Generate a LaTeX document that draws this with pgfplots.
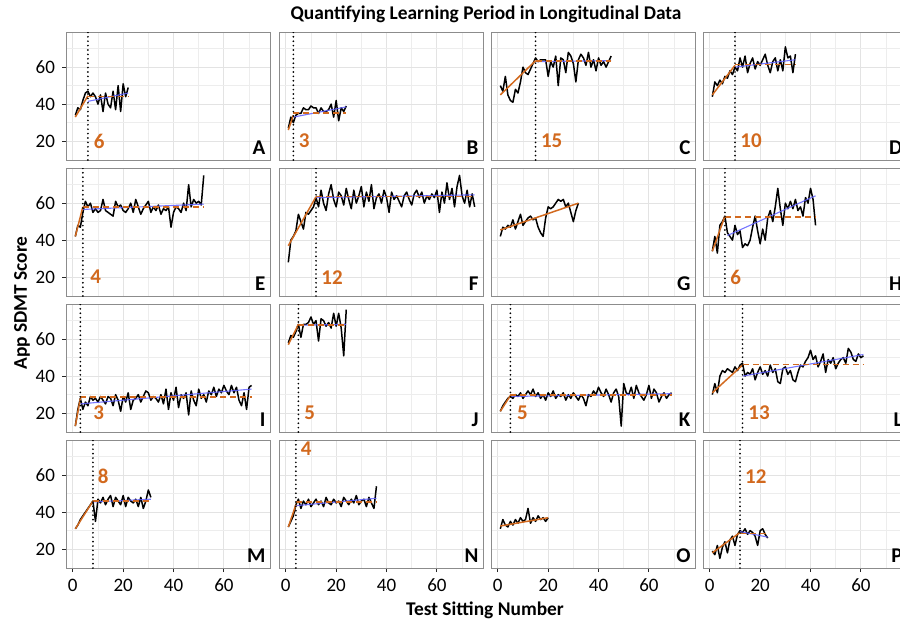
\documentclass[border=0pt]{standalone}
\usepackage{fontspec}
\setmainfont{Carlito}
\usepackage{pgfplots}
\pgfplotsset{compat=1.18}
\definecolor{lporange}{RGB}{210,105,30}
\definecolor{fitblue}{RGB}{95,95,255}
\pgfplotsset{
  panel/.style={
    scale only axis, width=102.5pt, height=64pt, anchor=north west,
    xmin=-2.7, xmax=78.7, ymin=9.8, ymax=79,
    xtick={0,20,40,60}, ytick={20,40,60},
    minor xtick={10,30,50,70}, minor ytick={30,50,70},
    xmajorgrids, ymajorgrids, xminorgrids, yminorgrids,
    major grid style={draw=black!11, line width=0.5pt},
    minor grid style={draw=black!7, line width=0.4pt},
    axis line style={draw=black!45, line width=0.5pt},
    xticklabels={}, yticklabels={},
    xtick pos=lower, ytick pos=left, tick align=outside,
    major tick length=2pt, minor tick length=0pt,
    tick style={black!85, line width=0.55pt},
    every major x tick/.append style={draw=none},
    every major y tick/.append style={draw=none},
    tick label style={font=\fontsize{9.5}{10}\selectfont},
  },
  leftcol/.style={yticklabels={20,40,60},
    every major y tick/.append style={draw=black!85}},
  bottomrow/.style={xticklabels={0,20,40,60},
    every major x tick/.append style={draw=black!85}},
  dataline/.style={black, line width=0.75pt, line join=round},
  lpline/.style={lporange, line width=0.75pt},
  platline/.style={lporange, line width=0.75pt, dash pattern=on 3pt off 2pt},
  fitline/.style={fitblue, line width=0.55pt, opacity=0.85},
  vline/.style={black, line width=0.95pt, line cap=round, dash pattern=on 0pt off 2.2pt},
}
\tikzset{
  lpnum/.style={lporange, anchor=west, inner sep=0pt, font=\fontsize{10.5}{11}\bfseries},
  letter/.style={anchor=south east, inner sep=0pt, font=\fontsize{10.5}{11}\bfseries},
  ttl/.style={font=\fontsize{9.7}{11}\bfseries},
}
\begin{document}
\begin{tikzpicture}
% ---- row 1
\begin{axis}[panel, leftcol, at={(33pt,-16pt)}]
\addplot[dataline] table[x expr=\coordindex+1, y index=0, header=false, row sep=\\] {34\\38\\37\\42\\46\\47\\44\\46\\44\\40\\45\\36\\46\\40\\38\\47\\37\\50\\36\\51\\44\\49\\};
\addplot[fitline] coordinates {(6,41.5) (22,46)};
\addplot[lpline] coordinates {(1,33) (6,44.5)};
\addplot[platline] coordinates {(6,44) (22,44)};
\addplot[vline] coordinates {(6,9.8) (6,79)};
\node[lpnum] at (axis cs:8.2,20) {6};
\node[letter] at (rel axis cs:0.975,0.04) {A};
\end{axis}
\begin{axis}[panel, at={(139.5pt,-16pt)}]
\addplot[dataline] table[x expr=\coordindex+1, y index=0, header=false, row sep=\\] {27\\33\\30\\34\\35\\35\\38\\37\\37\\39\\38\\38\\35\\38\\36\\36\\37\\40\\33\\42\\31\\38\\36\\39\\};
\addplot[fitline] coordinates {(3,33) (24,38.5)};
\addplot[lpline] coordinates {(1,26) (3,34)};
\addplot[platline] coordinates {(3,35.3) (24,35.3)};
\addplot[vline] coordinates {(3,9.8) (3,79)};
\node[lpnum] at (axis cs:5,20) {3};
\node[letter] at (rel axis cs:0.975,0.04) {B};
\end{axis}
\begin{axis}[panel, at={(245.5pt,-16pt)}]
\addplot[dataline] table[x expr=\coordindex+1, y index=0, header=false, row sep=\\] {50\\47\\55\\45\\42\\41\\48\\46\\52\\60\\57\\56\\59\\62\\65\\63\\64\\64\\64\\55\\63\\60\\66\\50\\65\\64\\57\\68\\66\\62\\52\\64\\67\\65\\61\\68\\60\\64\\58\\65\\61\\63\\60\\63\\66\\};
\addplot[fitline] coordinates {(15,63) (45,63.5)};
\addplot[lpline] coordinates {(1,45) (15,63.5)};
\addplot[platline] coordinates {(15,63.4) (45,63.4)};
\addplot[vline] coordinates {(15,9.8) (15,79)};
\node[lpnum] at (axis cs:17,20) {15};
\node[letter] at (rel axis cs:0.975,0.04) {C};
\end{axis}
\begin{axis}[panel, at={(351.5pt,-16pt)}]
\addplot[dataline] table[x expr=\coordindex+1, y index=0, header=false, row sep=\\] {44\\52\\50\\53\\51\\55\\54\\58\\56\\60\\58\\65\\60\\66\\57\\62\\65\\59\\63\\61\\64\\67\\61\\57\\63\\65\\58\\64\\58\\71\\65\\66\\57\\67\\};
\addplot[fitline] coordinates {(10,60) (34,64)};
\addplot[lpline] coordinates {(1,45) (10,61)};
\addplot[platline] coordinates {(10,61.5) (34,61.5)};
\addplot[vline] coordinates {(10,9.8) (10,79)};
\node[lpnum] at (axis cs:12,20) {10};
\node[letter] at (rel axis cs:0.975,0.04) {D};
\end{axis}
% ---- row 2
\begin{axis}[panel, leftcol, at={(33pt,-84pt)}]
\addplot[dataline] table[x expr=\coordindex+1, y index=0, header=false, row sep=\\] {42\\48\\47\\55\\61\\58\\60\\55\\57\\55\\56\\62\\56\\55\\54\\53\\61\\58\\59\\56\\55\\57\\60\\55\\62\\58\\54\\57\\59\\61\\55\\58\\56\\59\\54\\57\\56\\58\\47\\55\\58\\57\\55\\60\\56\\70\\58\\62\\60\\61\\59\\75\\};
\addplot[fitline] coordinates {(4,56.6) (52,59.5)};
\addplot[lpline] coordinates {(1,42) (4,58)};
\addplot[platline] coordinates {(4,58) (52,58)};
\addplot[vline] coordinates {(4,9.8) (4,79)};
\node[lpnum] at (axis cs:6.8,20) {4};
\node[letter] at (rel axis cs:0.975,0.04) {E};
\end{axis}
\begin{axis}[panel, at={(139.5pt,-84pt)}]
\addplot[dataline] table[x expr=\coordindex+1, y index=0, header=false, row sep=\\] {28\\40\\42\\45\\54\\50\\46\\55\\54\\56\\58\\63\\58\\67\\60\\56\\65\\70\\62\\58\\66\\64\\59\\68\\62\\57\\67\\60\\64\\69\\58\\66\\61\\70\\57\\63\\65\\60\\67\\63\\55\\66\\62\\64\\61\\58\\64\\66\\62\\59\\65\\67\\63\\66\\60\\64\\62\\65\\63\\67\\55\\66\\60\\71\\62\\68\\58\\69\\75\\64\\60\\67\\58\\65\\58\\};
\addplot[fitline] coordinates {(12,63) (75,64.5)};
\addplot[lpline] coordinates {(1,37) (12,63.5)};
\addplot[platline] coordinates {(12,63.5) (75,63.5)};
\addplot[vline] coordinates {(12,9.8) (12,79)};
\node[lpnum] at (axis cs:14,20) {12};
\node[letter] at (rel axis cs:0.975,0.04) {F};
\end{axis}
\begin{axis}[panel, at={(245.5pt,-84pt)}]
\addplot[dataline] table[x expr=\coordindex+1, y index=0, header=false, row sep=\\] {42\\47\\46\\48\\47\\51\\46\\50\\54\\48\\50\\52\\53\\51\\52\\47\\44\\42\\52\\58\\57\\58\\60\\62\\61\\62\\58\\60\\55\\50\\56\\60\\};
\addplot[lpline] coordinates {(1,45.5) (32,60)};
\node[letter] at (rel axis cs:0.975,0.04) {G};
\end{axis}
\begin{axis}[panel, at={(351.5pt,-84pt)}]
\addplot[dataline] table[x expr=\coordindex+1, y index=0, header=false, row sep=\\] {34\\42\\33\\48\\50\\53\\44\\42\\40\\48\\43\\45\\36\\38\\37\\40\\47\\53\\45\\38\\46\\40\\52\\56\\50\\58\\68\\57\\48\\60\\57\\61\\57\\62\\56\\58\\53\\63\\60\\68\\62\\48\\};
\addplot[fitline] coordinates {(7,42.5) (42,64)};
\addplot[lpline] coordinates {(1,34) (6,53)};
\addplot[platline] coordinates {(6,52.6) (42,52.6)};
\addplot[vline] coordinates {(6,9.8) (6,79)};
\node[lpnum] at (axis cs:8,20) {6};
\node[letter] at (rel axis cs:0.975,0.04) {H};
\end{axis}
% ---- row 3
\begin{axis}[panel, leftcol, at={(33pt,-152pt)}]
\addplot[dataline] table[x expr=\coordindex+1, y index=0, header=false, row sep=\\] {13\\22\\28\\22\\26\\24\\29\\27\\28\\26\\29\\27\\25\\29\\28\\24\\30\\27\\21\\29\\26\\31\\22\\27\\28\\30\\26\\29\\32\\31\\27\\29\\28\\26\\30\\25\\33\\22\\31\\27\\34\\23\\30\\28\\31\\19\\32\\27\\24\\33\\28\\30\\26\\32\\30\\34\\29\\33\\31\\35\\32\\30\\35\\31\\34\\27\\24\\31\\22\\34\\35\\};
\addplot[fitline] coordinates {(3,25) (71,33)};
\addplot[lpline] coordinates {(1,13) (3,28)};
\addplot[platline] coordinates {(3,28.8) (71,28.8)};
\addplot[vline] coordinates {(3,9.8) (3,79)};
\node[lpnum] at (axis cs:8,20) {3};
\node[letter] at (rel axis cs:0.975,0.04) {I};
\end{axis}
\begin{axis}[panel, at={(139.5pt,-152pt)}]
\addplot[dataline] table[x expr=\coordindex+1, y index=0, header=false, row sep=\\] {58\\62\\61\\64\\68\\61\\68\\68\\69\\72\\68\\70\\59\\71\\70\\67\\69\\66\\74\\67\\74\\66\\51\\76\\};
\addplot[fitline] coordinates {(5,67.5) (24,68)};
\addplot[lpline] coordinates {(1,57) (5,68)};
\addplot[platline] coordinates {(5,67.6) (24,67.6)};
\addplot[vline] coordinates {(5,9.8) (5,79)};
\node[lpnum] at (axis cs:7.2,20) {5};
\node[letter] at (rel axis cs:0.975,0.04) {J};
\end{axis}
\begin{axis}[panel, at={(245.5pt,-152pt)}]
\addplot[dataline] table[x expr=\coordindex+1, y index=0, header=false, row sep=\\] {21\\24\\26\\28\\29\\28\\30\\29\\31\\28\\30\\32\\30\\33\\29\\31\\28\\30\\27\\31\\29\\32\\28\\30\\29\\31\\27\\30\\28\\31\\29\\27\\30\\28\\24\\30\\29\\32\\30\\34\\31\\29\\33\\30\\26\\31\\33\\29\\13\\36\\31\\30\\34\\28\\35\\31\\29\\27\\30\\35\\28\\33\\31\\26\\29\\31\\28\\30\\31\\};
\addplot[fitline] coordinates {(5,29) (69,30.5)};
\addplot[lpline] coordinates {(1,21) (5,29.5)};
\addplot[platline] coordinates {(5,29.7) (69,29.7)};
\addplot[vline] coordinates {(5,9.8) (5,79)};
\node[lpnum] at (axis cs:7.5,20) {5};
\node[letter] at (rel axis cs:0.975,0.04) {K};
\end{axis}
\begin{axis}[panel, at={(351.5pt,-152pt)}]
\addplot[dataline] table[x expr=\coordindex+1, y index=0, header=false, row sep=\\] {30\\36\\31\\40\\43\\42\\44\\43\\42\\45\\43\\46\\47\\40\\42\\41\\44\\38\\42\\45\\41\\43\\40\\46\\42\\44\\37\\36\\44\\45\\41\\43\\38\\37\\42\\46\\45\\48\\50\\54\\49\\51\\45\\48\\52\\42\\49\\47\\50\\44\\47\\49\\50\\47\\55\\53\\49\\48\\52\\50\\51\\};
\addplot[fitline] coordinates {(13,40) (61,51.7)};
\addplot[lpline] coordinates {(1,31) (13,46)};
\addplot[platline] coordinates {(13,46.3) (61,46.3)};
\addplot[vline] coordinates {(13,9.8) (13,79)};
\node[lpnum] at (axis cs:15.2,20) {13};
\node[letter] at (rel axis cs:0.975,0.04) {L};
\end{axis}
% ---- row 4
\begin{axis}[panel, leftcol, bottomrow, at={(33pt,-220pt)}]
\addplot[dataline] table[x expr=\coordindex+1, y index=0, header=false, row sep=\\] {31\\33\\36\\38\\40\\42\\44\\46\\35\\47\\45\\48\\44\\47\\49\\43\\48\\46\\44\\49\\43\\48\\46\\45\\47\\43\\48\\42\\46\\52\\48\\};
\addplot[fitline] coordinates {(8,45.5) (31,47)};
\addplot[lpline] coordinates {(1,31) (8,46)};
\addplot[platline] coordinates {(8,46) (31,46)};
\addplot[vline] coordinates {(8,9.8) (8,79)};
\node[lpnum] at (axis cs:9.8,59.5) {8};
\node[letter] at (rel axis cs:0.975,0.04) {M};
\end{axis}
\begin{axis}[panel, bottomrow, at={(139.5pt,-220pt)}]
\addplot[dataline] table[x expr=\coordindex+1, y index=0, header=false, row sep=\\] {32\\35\\38\\44\\47\\42\\46\\44\\47\\43\\45\\47\\44\\46\\43\\48\\45\\44\\47\\45\\46\\43\\48\\46\\44\\47\\45\\49\\44\\46\\47\\43\\48\\45\\42\\54\\};
\addplot[fitline] coordinates {(4,43.5) (36,47.5)};
\addplot[lpline] coordinates {(1,32) (4,44)};
\addplot[platline] coordinates {(4,45.5) (36,45.5)};
\addplot[vline] coordinates {(4,9.8) (4,79)};
\node[lpnum] at (axis cs:5.8,74.5) {4};
\node[letter] at (rel axis cs:0.975,0.04) {N};
\end{axis}
\begin{axis}[panel, bottomrow, at={(245.5pt,-220pt)}]
\addplot[dataline] table[x expr=\coordindex+1, y index=0, header=false, row sep=\\] {31\\36\\33\\32\\35\\33\\36\\34\\37\\35\\36\\42\\34\\37\\35\\38\\36\\37\\35\\37\\};
\addplot[lpline] coordinates {(1,32.5) (20,37)};
\node[letter] at (rel axis cs:0.975,0.04) {O};
\end{axis}
\begin{axis}[panel, bottomrow, at={(351.5pt,-220pt)}]
\addplot[dataline] table[x expr=\coordindex+1, y index=0, header=false, row sep=\\] {19\\17\\22\\15\\21\\24\\18\\25\\27\\22\\28\\30\\29\\31\\28\\30\\29\\27\\22\\30\\31\\28\\26\\};
\addplot[fitline] coordinates {(12,29.5) (23,26.5)};
\addplot[lpline] coordinates {(1,18) (12,29)};
\addplot[platline] coordinates {(12,28.5) (23,28.5)};
\addplot[vline] coordinates {(12,9.8) (12,79)};
\node[lpnum] at (axis cs:13.9,59) {12};
\node[letter] at (rel axis cs:0.975,0.04) {P};
\end{axis}
% ---- titles
\node[ttl] at (243pt,-7pt) {Quantifying Learning Period in Longitudinal Data};
\node[ttl] at (242.5pt,-305pt) {Test Sitting Number};
\node[ttl, rotate=90] at (11pt,-151.5pt) {App SDMT Score};
\pgfresetboundingbox
\path[use as bounding box] (0,0) rectangle (450pt,-311.5pt);
\end{tikzpicture}
\end{document}
